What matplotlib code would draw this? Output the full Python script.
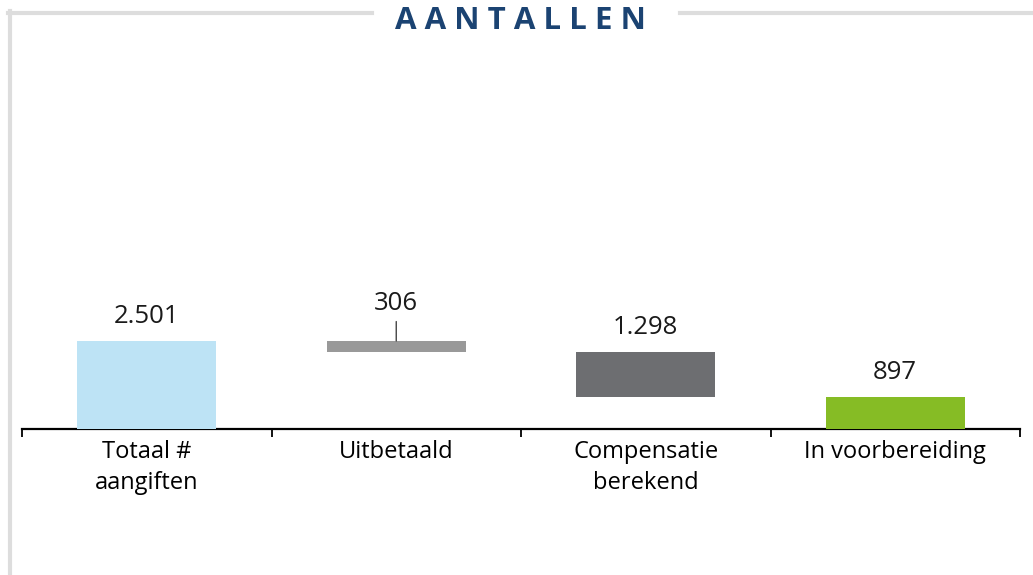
'''Waterfall chart: aantallen aangiften.'''
import numpy as np
import matplotlib.pyplot as plt
from matplotlib.lines import Line2D

plt.rcParams['font.family'] = ['Open Sans', 'DejaVu Sans']

categories = ['Totaal #\naangiften', 'Uitbetaald', 'Compensatie\nberekend', 'In voorbereiding']
values = [2501, 306, 1298, 897]
value_labels = ['2.501', '306', '1.298', '897']
colors = ['#bde3f5', '#999999', '#6d6e71', '#86bc25']

# waterfall: first bar from 0, then steps down, last bar from 0 again
bottoms = [0, values[0] - values[1], values[0] - values[1] - values[2], 0]
tops = [b + v for b, v in zip(bottoms, values)]

W, H = 1033, 575
fig = plt.figure(figsize=(W / 100, H / 100), dpi=100)

base_px = 429
ymax = 11000
ax_h = ymax * 88 / 2501
ax = fig.add_axes([22 / W, 1 - base_px / H, (1020 - 22) / W, ax_h / H])

x = np.arange(len(categories))
ax.bar(x, values, bottom=bottoms, width=0.556, color=colors, zorder=3)
ax.set_xlim(-0.5, 3.5)
ax.set_ylim(0, ymax)

for s in ['top', 'right', 'left']:
    ax.spines[s].set_visible(False)
ax.spines['bottom'].set_linewidth(1.6)
ax.spines['bottom'].set_color('black')
ax.set_yticks([])

ax.set_xticks(x)
ax.set_xticklabels(categories, fontsize=17, linespacing=1.4, va='top')
ax.tick_params(axis='x', which='major', length=0, pad=8)
ax.set_xticks(np.arange(-0.5, 4, 1), minor=True)
ax.tick_params(axis='x', which='minor', length=5.5, width=1.3, direction='out')

for i, (t, lab) in enumerate(zip(tops, value_labels)):
    if i == 1:
        ax.annotate('', xy=(i, t), xytext=(0, 14), textcoords='offset points',
                    arrowprops=dict(arrowstyle='-', color='#444444', lw=1.0,
                                    shrinkA=0, shrinkB=0))
        off = 22
    else:
        off = 13
    ax.annotate(lab, xy=(i, t), xytext=(0, off), textcoords='offset points',
                ha='center', va='baseline', fontsize=18.5, color='#1a1a1a')

# frame lines and title
grey = '#dddddd'
fig.add_artist(Line2D([8 / W, 372 / W], [1 - 12.5 / H] * 2, color=grey, lw=3,
                      transform=fig.transFigure))
fig.add_artist(Line2D([680 / W, 1.0], [1 - 12.5 / H] * 2, color=grey, lw=3,
                      transform=fig.transFigure))
fig.add_artist(Line2D([9.5 / W] * 2, [0, 1 - 11 / H], color=grey, lw=3,
                      transform=fig.transFigure))
fig.text(520 / W, 1 - 21 / H, ' '.join('AANTALLEN'), ha='center', va='center',
         fontsize=22.5, fontweight='bold', color='#1b4372')

plt.savefig('out.png', dpi=100)
